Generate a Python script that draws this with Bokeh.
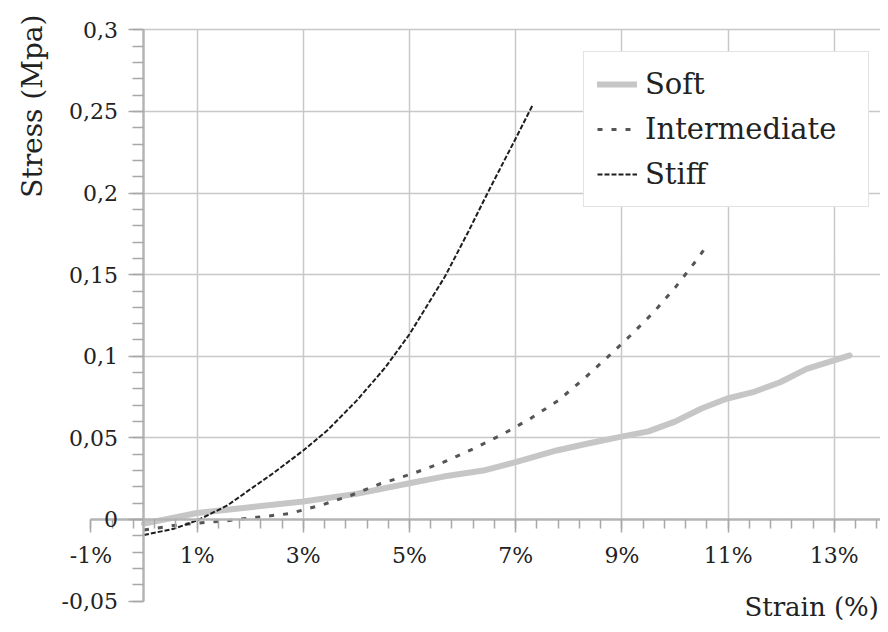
from math import pi
from bokeh.plotting import figure
from bokeh.models import (LinearAxis, FixedTicker, CustomJSTickFormatter, Grid,
                          Legend, LegendItem, Label, Range1d)
from bokeh.embed import file_html
from bokeh.resources import INLINE

# ---- data (strain in %, stress in MPa) ----
soft_x = [0, 1, 2, 3, 4, 5, 5.64, 6.39, 7, 7.77, 8.34, 8.97, 9.5, 10.0, 10.5,
          10.97, 11.47, 11.98, 12.48, 12.98, 13.29]
soft_y = [-0.0025, 0.004, 0.0075, 0.011, 0.0157, 0.0222, 0.0263, 0.030, 0.0351,
          0.0423, 0.0464, 0.0506, 0.054, 0.060, 0.068, 0.074, 0.078, 0.0841,
          0.0923, 0.0974, 0.1005]

inter_x = [0, 0.25, 0.56, 1.19, 1.5, 2.13, 2.72, 3.32, 3.89, 4.45, 5.05, 5.64,
           6.2, 6.77, 7.3, 7.8, 8.27, 8.73, 9.17, 9.61, 10.02, 10.41, 10.58]
inter_y = [-0.0065, -0.0052, -0.0037, -0.0016, -0.001, 0.0014, 0.0035, 0.0086,
           0.0147, 0.0219, 0.028, 0.0351, 0.0433, 0.0525, 0.0623, 0.0729, 0.0858,
           0.0995, 0.113, 0.1274, 0.1428, 0.1591, 0.1669]

stiff_x = [0, 0.56, 1.0, 1.57, 2.0, 2.44, 3.0, 3.45, 4.01, 4.54, 5.0, 5.67, 6.11,
           6.47, 6.77, 7.0, 7.32]
stiff_y = [-0.0095, -0.0057, -0.0006, 0.0086, 0.0185, 0.0285, 0.0423, 0.0545,
           0.073, 0.093, 0.1135, 0.149, 0.1765, 0.2, 0.219, 0.2335, 0.254]

x_major = [-1, 1, 3, 5, 7, 9, 11, 13]
x_grid = [1, 3, 5, 7, 9, 11, 13]
x_minor = [round(-1 + 0.4 * i, 2) for i in range(0, 38)]
y_major = [-0.05, 0, 0.05, 0.1, 0.15, 0.2, 0.25, 0.3]
y_grid = [0.05, 0.1, 0.15, 0.2, 0.25, 0.3]
y_minor = [round(-0.05 + 0.01 * i, 3) for i in range(0, 36)]

series_names = ["Soft", "Intermediate", "Stiff"]

X_START, X_END = -2.7024, 13.870
Y_START, Y_END = -0.06434, 0.31801
FONT = "DejaVu Serif"
TXT = "#222222"

p = figure(width=880, height=624, output_backend="svg", toolbar_location=None,
           x_range=Range1d(X_START, X_END), y_range=Range1d(Y_START, Y_END),
           x_axis_location=None, y_axis_location=None,
           min_border_left=0, min_border_right=0, min_border_top=0,
           min_border_bottom=0)
p.outline_line_color = None
p.background_fill_color = "white"
p.border_fill_color = "white"
# drop the default grids; custom ones are added below
p.center = [r for r in p.center if not isinstance(r, Grid)]

# axes crossing at the origin
xax = LinearAxis(fixed_location=0, bounds=(-1, X_END),
                 ticker=FixedTicker(ticks=x_major, minor_ticks=x_minor),
                 formatter=CustomJSTickFormatter(code="return Math.round(tick) + '%';"))
yax = LinearAxis(fixed_location=0, bounds=(-0.05, 0.3),
                 ticker=FixedTicker(ticks=y_major, minor_ticks=y_minor),
                 formatter=CustomJSTickFormatter(
                     code="const v = Math.round(tick*100)/100; return String(v).replace('.', ',');"))
for ax in (xax, yax):
    ax.axis_line_color = "#b4b4b4"
    ax.axis_line_width = 2.5
    ax.major_tick_line_color = "#a8a8a8"
    ax.major_tick_line_width = 1.5
    ax.minor_tick_line_color = "#a8a8a8"
    ax.minor_tick_line_width = 1.5
    ax.major_tick_in = 0
    ax.minor_tick_in = 0
    ax.major_label_text_font = FONT
    ax.major_label_text_font_size = "22px"
    ax.major_label_text_color = TXT
    ax.major_label_standoff = 11
xax.major_tick_out = 13
xax.minor_tick_out = 9
yax.major_tick_out = 15
yax.minor_tick_out = 11
p.add_layout(xax, "below")
p.add_layout(yax, "left")

xg = Grid(dimension=0, ticker=FixedTicker(ticks=x_grid), cross_bounds=(0, 0.3),
          grid_line_color="#c8c8c8", grid_line_width=1.5)
yg = Grid(dimension=1, ticker=FixedTicker(ticks=y_grid), cross_bounds=(0, X_END),
          grid_line_color="#c8c8c8", grid_line_width=1.5)
p.add_layout(xg)
p.add_layout(yg)

r_soft = p.line(soft_x, soft_y, line_color="#c6c6c6", line_width=6,
                line_join="round", line_cap="round")
r_inter = p.line(inter_x, inter_y, line_color="#555555", line_width=3,
                 line_dash="5 9")
r_stiff = p.line(stiff_x, stiff_y, line_color="#1e1e1e", line_width=2,
                 line_dash="5 2")

legend = Legend(items=[LegendItem(label=series_names[0], renderers=[r_soft]),
                       LegendItem(label=series_names[1], renderers=[r_inter]),
                       LegendItem(label=series_names[2], renderers=[r_stiff])],
                location=(583, 417))
legend.label_text_font = FONT
legend.label_text_font_size = "29px"
legend.label_text_color = TXT
legend.glyph_width = 40
legend.glyph_height = 38
legend.label_height = 38
legend.label_width = 210
legend.label_standoff = 8
legend.spacing = 7
legend.padding = 13
legend.border_line_color = "#c8c8c8"
legend.border_line_width = 1.5
legend.background_fill_color = "white"
legend.background_fill_alpha = 1
p.add_layout(legend, "center")

p.add_layout(Label(x=-2.1, y=0.3094, text="Stress (Mpa)", angle=pi / 2,
                   text_align="right", text_baseline="middle",
                   text_font=FONT, text_font_size="28px", text_color=TXT))
p.add_layout(Label(x=13.84, y=-0.0539, text="Strain (%)",
                   text_align="right", text_baseline="middle",
                   text_font=FONT, text_font_size="26px", text_color=TXT))

open("out.html", "w").write(file_html(p, INLINE))
